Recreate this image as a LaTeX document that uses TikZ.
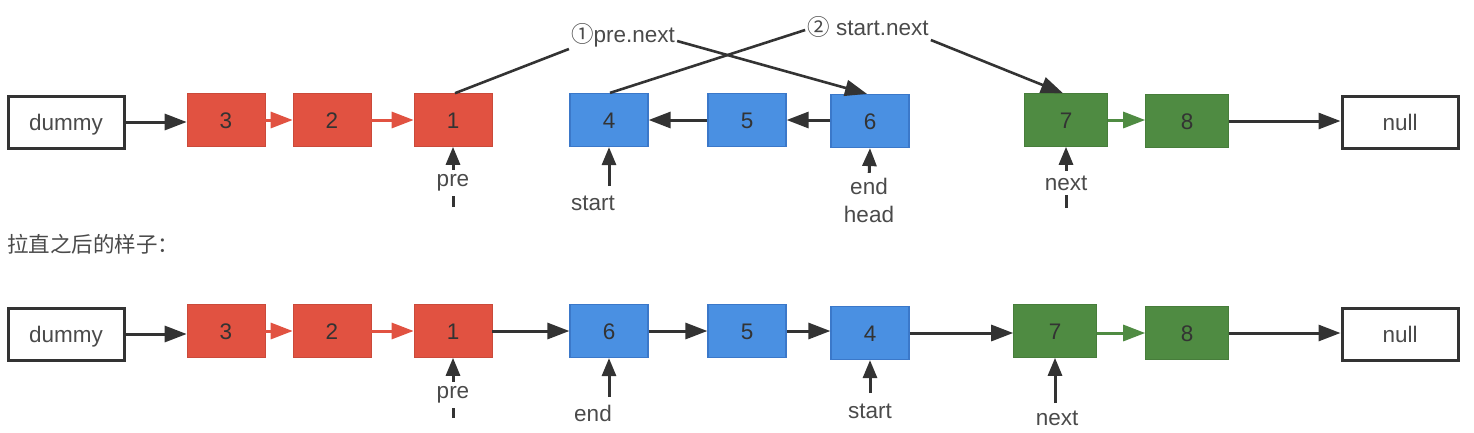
\documentclass[tikz,border=0pt]{standalone}
\usepackage{fontspec}
\setmainfont{Liberation Sans}
\newfontfamily\cjk{Noto Sans CJK SC}
\usetikzlibrary{arrows.meta}
\definecolor{cred}{HTML}{E15241}
\definecolor{cblue}{HTML}{4A90E2}
\definecolor{cblueb}{HTML}{3B78C9}
\definecolor{cgreen}{HTML}{4F8B42}
\definecolor{ctext}{HTML}{333333}
\definecolor{clab}{HTML}{4A4A4A}
\tikzset{
  base/.style={minimum width=78pt,minimum height=53pt,inner sep=0pt,text=ctext,font=\fontsize{22.5}{26}\selectfont,text height=16pt,text depth=0pt},
  redbox/.style={base,fill=cred,draw=cred!90!black,line width=0.6pt},
  bluebox/.style={base,fill=cblue,draw=cblueb,line width=1.2pt},
  greenbox/.style={base,fill=cgreen,draw=cgreen!90!black,line width=0.6pt,minimum width=83pt},
  endbox/.style={base,minimum width=116pt,minimum height=52pt,draw=ctext,line width=3pt,fill=white,text=clab},
  tip/.style={-{Triangle[length=22pt,width=16pt]}},
  arr/.style={draw=ctext,line width=3pt,tip},
  rarr/.style={draw=cred,line width=3pt,tip},
  garr/.style={draw=cgreen,line width=3pt,tip},
  ptr/.style={draw=ctext,line width=3pt,-{Triangle[length=18pt,width=14pt]}},
  lab/.style={text=clab,font=\fontsize{22.5}{28}\selectfont,inner sep=1pt,align=center},
  labw/.style={lab,fill=white,inner ysep=5pt},
  ann/.style={draw=ctext,line width=2.6pt},
}
\begin{document}
\begin{tikzpicture}[x=1pt,y=-1pt]
\useasboundingbox (0,0) rectangle (1474,432);
% ---------- top row ----------
\node[endbox] (d1) at (66,122) {dummy};
\node[redbox] (a3) at (226,120) {3};
\node[redbox] (a2) at (332,120) {2};
\node[redbox] (a1) at (453,120) {1};
\node[bluebox] (a4) at (609,120) {4};
\node[bluebox] (a5) at (747,120) {5};
\node[bluebox] (a6) at (870,121) {6};
\node[greenbox] (a7) at (1066,120) {7};
\node[greenbox] (a8) at (1187,121) {8};
\node[endbox] (z1) at (1400,122) {null};
\draw[arr] (d1.east) -- (d1.east -| a3.west);
\draw[rarr] (a3) -- (a2);
\draw[rarr] (a2) -- (a1);
\draw[arr] (a5) -- (a4);
\draw[arr] (a6.west |- a5.east) -- (a5.east);
\draw[garr] (a7) -- (a7 -| a8.west);
\draw[arr] (a8.east) -- (a8.east -| z1.west);
% annotations
\node[lab,inner sep=2pt] (l1) at (623,35) {{\cjk ①}pre.next};
\node[lab,inner sep=2pt] (l2) at (868,27) {{\cjk ②} start.next};
\draw[ann] ([xshift=2pt]a1.north) -- ([yshift=-14pt]l1.west);
\draw[ann,tip] ([yshift=-6pt]l1.east) -- ([xshift=-3pt]a6.north);
\draw[ann] ([xshift=1pt]a4.north) -- ([yshift=-3pt]l2.west);
\draw[ann,tip] ([yshift=-13pt]l2.east) -- ([xshift=-3pt]a7.north);
% pointers
\coordinate (p1) at (453,207);
\draw[ptr] (p1) -- (a1.south);
\node[labw] (tpre) at (453,183) {pre};
\coordinate (p4) at (609,186);
\draw[ptr] (p4) -- (a4.south);
\node[lab] (tstart) at (593,203) {start};
\coordinate (p6) at (869,180);
\draw[ptr] (p6) -- (a6.south);
\node[labw] (tend) at (869,200) {end\\head};
\coordinate (p7) at (1066,208);
\draw[ptr] (p7) -- (a7.south);
\node[labw] (tnext) at (1066,183) {next};
% caption
\node[anchor=west,text=clab,inner sep=0pt] (cap) at (7,244) {\cjk\fontsize{21.5}{26}\selectfont 拉直之后的样子：};
% ---------- bottom row ----------
\node[endbox] (d2) at (66,334) {dummy};
\node[redbox] (b3) at (226,331) {3};
\node[redbox] (b2) at (332,331) {2};
\node[redbox] (b1) at (453,331) {1};
\node[bluebox] (b6) at (609,331) {6};
\node[bluebox] (b5) at (747,331) {5};
\node[bluebox] (b4) at (870,333) {4};
\node[greenbox] (b7) at (1055,331) {7};
\node[greenbox] (b8) at (1187,333) {8};
\node[endbox] (z2) at (1400,334) {null};
\draw[arr] (d2.east) -- (d2.east -| b3.west);
\draw[rarr] (b3) -- (b2);
\draw[rarr] (b2) -- (b1);
\draw[arr] (b1) -- (b6);
\draw[arr] (b6) -- (b5);
\draw[arr] (b5.east) -- (b4.west |- b5.east);
\draw[arr] (b4.east) -- (b7.west |- b4.east);
\draw[garr] (b7.east |- b8.west) -- (b8.west);
\draw[arr] (b8.east) -- (b8.east -| z2.west);
\coordinate (q1) at (453,418);
\draw[ptr] (q1) -- (b1.south);
\node[labw] (bpre) at (453,395) {pre};
\coordinate (q6) at (609,397);
\draw[ptr] (q6) -- (b6.south);
\node[lab] (bend) at (593,413) {end};
\coordinate (q4) at (870,393);
\draw[ptr] (q4) -- (b4.south);
\node[lab] (bstart) at (870,411) {start};
\coordinate (q7) at (1055,403);
\draw[ptr] (q7) -- (b7.south);
\node[lab] (bnext) at (1057,418) {next};
\end{tikzpicture}
\end{document}
